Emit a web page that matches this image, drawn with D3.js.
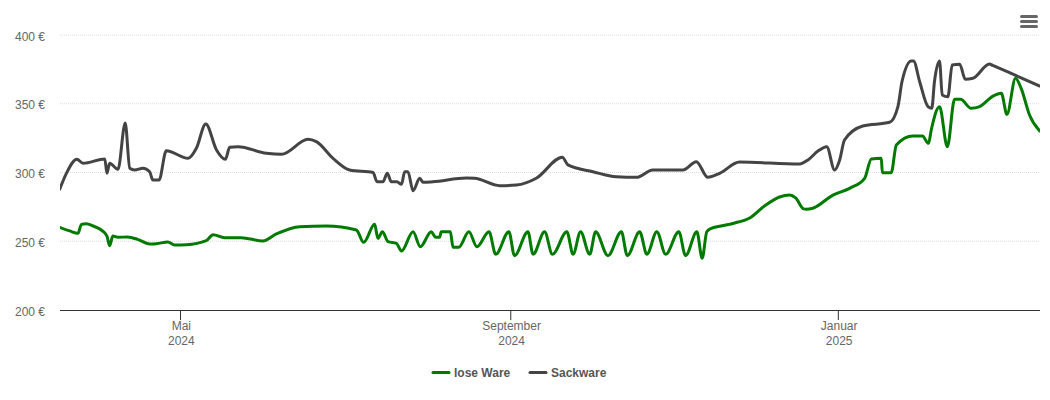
<!DOCTYPE html>
<html>
<head>
<meta charset="utf-8">
<style>
	html, body { margin: 0; padding: 0; background: #fff; }
	text { font-family: "Liberation Sans", Arial, sans-serif; }
</style>
<script src="https://cdn.jsdelivr.net/npm/d3@7"></script>
</head>
<body>
<div id="chart"></div>
<script>
// days since the first date of the chart, euro per ton
var startDate = new Date(2024, 2, 17);
var endDate = new Date(2025, 2, 17);

var looseDays = [0,3.7,6.8,8.1,9.9,12.4,15.5,17.6,18.6,19.8,21.7,25.3,29,33.5,36,40.3,42.8,47.2,54.6,57.1,61.4,67.6,75.7,80.7,89.4,99.3,110.5,113.2,117.3,118.5,120.2,122.3,125.4,127.3,131.6,134.3,138.4,140,141.5,142.1,145.5,146.5,148.6,152.4,155.4,159.9,162.4,167.3,169.4,174.4,176.3,180.6,183.5,188.9,191.2,194,197.4,199.6,204.2,209.2,211.4,216,218.7,222.4,225.7,230.6,233.1,237.3,239.3,241,242.7,245.8,251.4,257,262.5,268.1,271.9,274.1,277.1,278.1,280.5,288,294.2,299.8,302.3,306,306.4,309.7,311.6,317.8,321.3,323.6,324.6,327.7,330.6,333.3,335.5,339.5,342.6,347.6,350.7,352.8,356,358.1,361.2,365];
var looseValues = [260.1,257.5,255.8,262.3,262.8,261.1,258.2,253.8,246.8,253.8,252.9,253.1,251.4,248,248.2,249.5,247.3,247.5,250.4,254.8,252.6,252.6,250.2,255.3,260.6,261.1,258.2,249.2,262.3,252.1,256.9,249.7,248.5,242.9,256.9,246,256.9,252.9,252.9,256.9,256.9,245.6,245.6,256.9,246,256.9,240.5,256.9,239.5,256.9,240.5,256.9,240.5,256.9,240.5,256.9,240.5,256.9,239.5,256.9,239.5,256.9,240.5,256.9,240.5,256.9,239.5,256.9,237.6,256.9,259.4,260.9,263.3,266.9,275.6,282.2,283.6,281.5,273.5,273.2,274,283.6,288.5,295.8,309.8,310.3,299.9,299.9,320,326.5,326.5,321.2,330.9,347.9,318.8,353.2,353.2,346.7,347.9,355.6,357.6,342.3,368.5,361.2,341.8,330.2];

var sackDays = [0,2.5,6.4,8.7,16.8,17.6,18.6,21.7,24.4,26.1,27.9,31,33.5,34.7,37,39.7,47.8,50.9,54.4,58.4,61.7,63.3,66.4,77,82.6,92.5,95.6,101.8,108,116.7,118.2,120.4,122,123.5,125.6,127.3,128.5,129.7,131.6,134.1,135.3,139,151.5,154.5,163.9,170.1,177.5,187.2,189.3,198.6,207.3,214.8,220.9,232.1,237.1,241.4,245.8,253.2,275.6,278.7,282.4,285.7,288.6,290.5,292.3,299.1,309.1,312.2,313.7,317.2,318,320.3,323.4,324.8,325.8,327.7,328.7,330.8,332.4,335.2,337.3,340.1,346.3,347.5,355,365];
var sackValues = [287.8,299.4,309.6,306.7,309.8,299.4,306.7,302.3,336,303.1,301.8,303.1,300.6,294.5,294.5,315.9,310.3,317.6,335.3,316.4,309.6,318.3,318.8,314,313.2,324.1,322.4,310.3,301.8,300,293.3,293.3,299.4,293.3,293.3,291.4,300.6,300.6,286.8,295.8,292.9,293.3,296,295.8,290.4,290.9,295.8,311.1,305.5,300.6,296.9,296.5,301.8,301.8,307.9,296.5,299.4,307.6,306.2,309.1,315.6,318.8,301.8,309.1,323.6,333.8,336.5,347.9,366,381.1,381.1,366,347.9,346.7,366,381.1,356.4,355.1,378.2,378.7,367.8,368.5,378.9,377.9,371.5,362.9];

var yTicks = [200, 250, 300, 350, 400];
var xTickDates = [new Date(2024, 4, 1), new Date(2024, 8, 1), new Date(2025, 0, 1)];
var xTickMonths = ["Mai", "September", "Januar"];
var xTickYears = ["2024", "2024", "2025"];
var seriesNames = ["lose Ware", "Sackware"];
var seriesColors = ["#007a00", "#444444"];

var width = 1050, height = 400;
var left = 60, right = 1040, top_ = 35, bottom = 310;

var x = d3.scaleTime().domain([startDate, endDate]).range([left - 0.3, right - 0.3]);
var y = d3.scaleLinear().domain([200, 400]).range([bottom, top_]);

function dayToDate(d) {
	return new Date(startDate.getTime() + d * 86400000);
}

var svg = d3.select("#chart").append("svg")
	.attr("width", width)
	.attr("height", height)
	.style("display", "block");

svg.append("defs").append("clipPath").attr("id", "plot")
	.append("rect")
	.attr("x", left).attr("y", 0)
	.attr("width", right - left).attr("height", bottom);

// grid and y labels
var yAxis = svg.append("g")
	.attr("transform", "translate(" + left + ",0)")
	.call(d3.axisLeft(y).tickValues(yTicks).tickSize(0).tickPadding(15).tickFormat(function(d) { return d + " €"; }));
yAxis.select(".domain").remove();
yAxis.selectAll("text").attr("font-size", 12).attr("font-family", null).attr("fill", "#666").attr("dy", "0.42em");
yAxis.selectAll(".tick").filter(function(d) { return d != 200; })
	.append("line")
	.attr("x1", 0).attr("x2", right - left)
	.attr("y1", -0.5).attr("y2", -0.5)
	.attr("stroke", "#dddddd")
	.attr("stroke-dasharray", "1,1");

// lines
var line = d3.line()
	.x(function(d) { return x(dayToDate(d[0])); })
	.y(function(d) { return y(d[1]); })
	.curve(d3.curveMonotoneX);

var plot = svg.append("g").attr("clip-path", "url(#plot)");
[d3.zip(looseDays, looseValues), d3.zip(sackDays, sackValues)].forEach(function(points, i) {
	plot.append("path")
		.attr("d", line(points))
		.attr("fill", "none")
		.attr("stroke", seriesColors[i])
		.attr("stroke-width", 3)
		.attr("stroke-linejoin", "round")
		.attr("stroke-linecap", "round");
});

// x axis, two line labels
var xAxis = svg.append("g")
	.attr("transform", "translate(0," + bottom + ")")
	.call(d3.axisBottom(x).tickValues(xTickDates).tickSize(10).tickFormat(""));
xAxis.select(".domain").attr("stroke", "#333").attr("d", "M" + left + ",0.5H" + right);
xAxis.selectAll(".tick line").attr("stroke", "#333").attr("transform", "translate(-0.5,0)");
xAxis.selectAll(".tick").each(function(d, i) {
	var t = d3.select(this).select("text")
		.attr("font-size", 12).attr("font-family", null).attr("fill", "#666")
		.attr("text-anchor", "middle").attr("y", 0).attr("dy", null);
	t.append("tspan").attr("x", 0.3).attr("y", 20).text(xTickMonths[i]);
	t.append("tspan").attr("x", 0.3).attr("y", 35).text(xTickYears[i]);
});

// legend
var legendX = [433, 530];
seriesNames.forEach(function(name, i) {
	var g = svg.append("g").attr("transform", "translate(" + legendX[i] + ",372.5)");
	g.append("line")
		.attr("x1", 0).attr("x2", 16)
		.attr("stroke", seriesColors[i])
		.attr("stroke-width", 3)
		.attr("stroke-linecap", "round");
	g.append("text")
		.attr("x", 21).attr("y", 4)
		.attr("font-size", 12).attr("font-weight", "bold")
		.attr("fill", "#555")
		.text(name);
});

// export menu icon
[16.5, 21.5, 26.5].forEach(function(yy) {
	svg.append("line")
		.attr("x1", 1021.5).attr("x2", 1036.5)
		.attr("y1", yy).attr("y2", yy)
		.attr("stroke", "#666")
		.attr("stroke-width", 3)
		.attr("stroke-linecap", "round");
});
</script>
</body>
</html>
